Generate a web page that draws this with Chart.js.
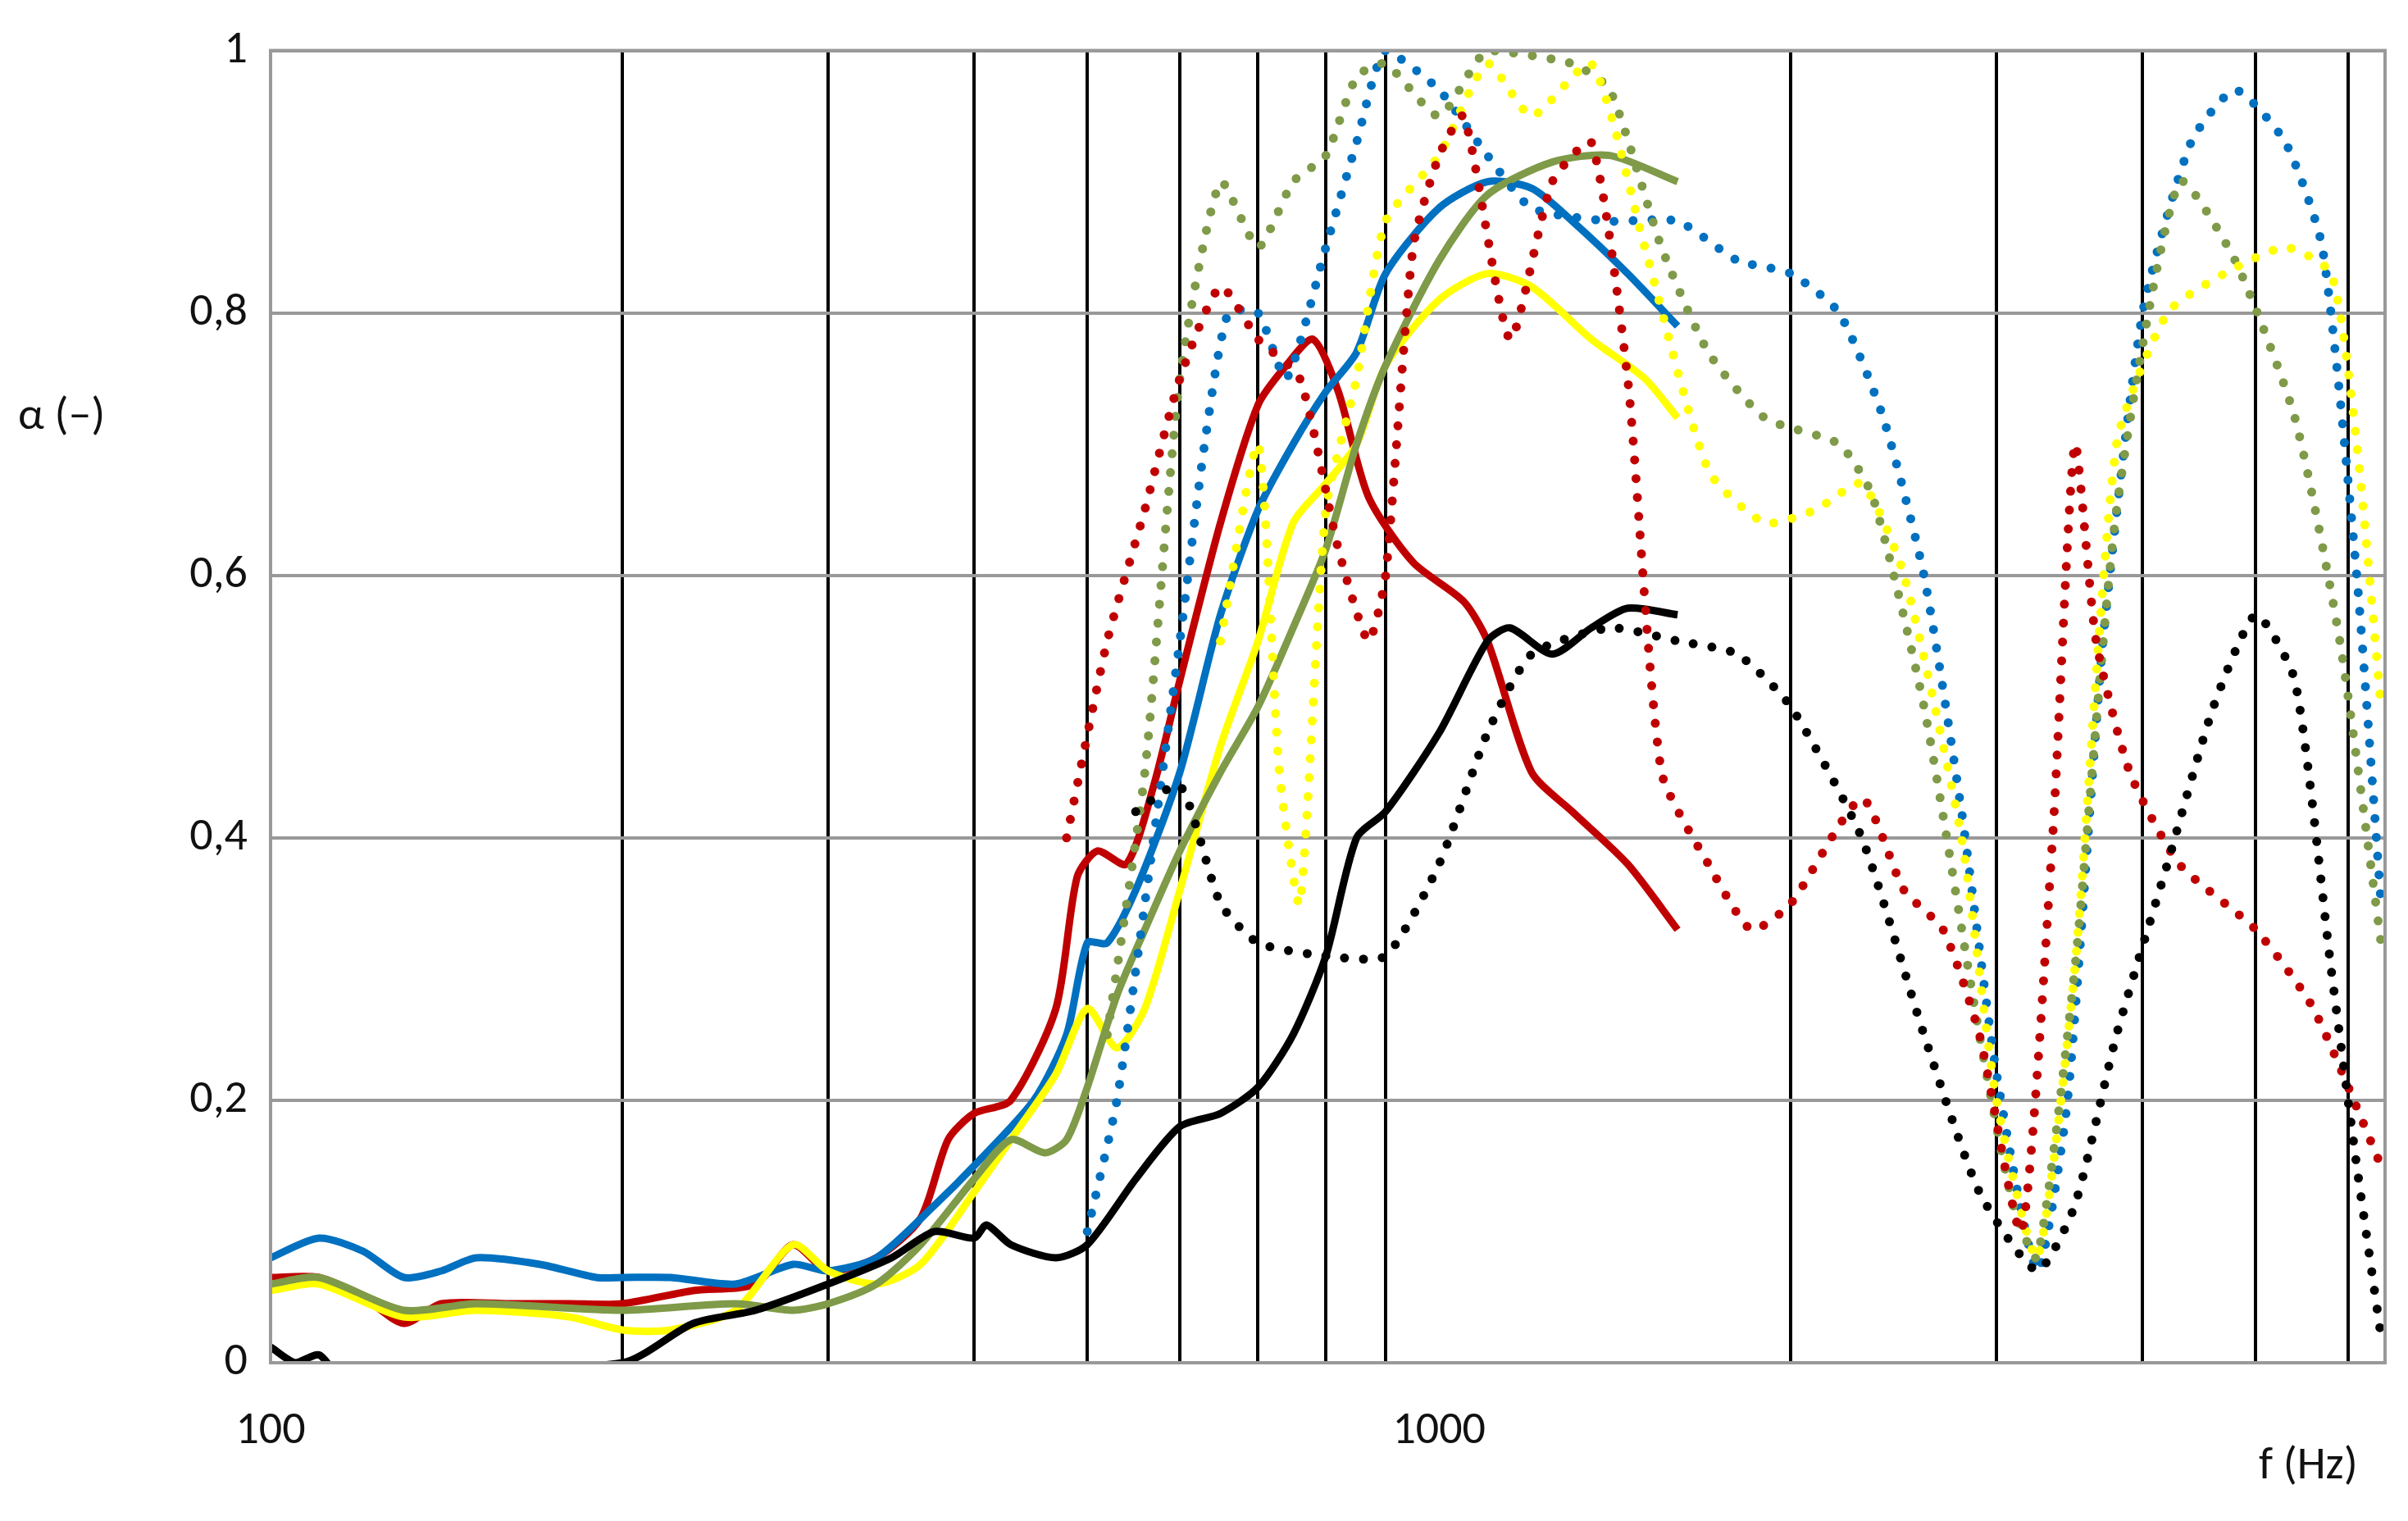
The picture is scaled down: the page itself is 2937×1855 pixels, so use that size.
<!DOCTYPE html>
<html><head><meta charset="utf-8">
<script src="https://cdn.jsdelivr.net/npm/chart.js@4.4.0/dist/chart.umd.min.js"></script>
<style>
html,body{margin:0;padding:0;background:#fff;}
#wrap{position:relative;width:2937px;height:1855px;}
.lbl{position:absolute;font-family:Calibri,Carlito,"Liberation Sans",sans-serif;font-size:56px;color:#111;}
</style></head><body>
<div id="wrap"><canvas id="c" width="2937" height="1855"></canvas>
<div class="lbl" style="left:22px;top:470px;">α (–)</div>
<div class="lbl" style="left:2755px;top:1750px;">f (Hz)</div>
</div>
<script>
// solid curves (100–1600 Hz)
const fSolidBlue = [100,110,120,130,140,150,170,190,200,220,250,280,300,330,370,400,450,480,500,520,550,600,650,700,750,800,850,900,1000,1100,1200,1300,1450,1600];
const aSolidBlue = [0.08,0.095,0.085,0.065,0.07,0.08,0.075,0.065,0.065,0.065,0.06,0.075,0.07,0.08,0.12,0.15,0.2,0.25,0.32,0.32,0.36,0.45,0.57,0.65,0.7,0.74,0.77,0.83,0.88,0.9,0.895,0.87,0.83,0.79];
const fSolidGreen = [100,110,130,150,200,250,280,300,330,360,400,430,460,480,500,530,560,600,650,700,750,800,850,900,1000,1100,1250,1400,1600];
const aSolidGreen = [0.06,0.065,0.04,0.045,0.04,0.045,0.04,0.045,0.06,0.09,0.14,0.17,0.16,0.17,0.21,0.28,0.33,0.39,0.45,0.5,0.56,0.62,0.7,0.76,0.84,0.89,0.915,0.92,0.9];
const fSolidYellow = [100,110,130,150,180,200,220,250,280,300,330,360,400,430,470,500,530,560,600,650,700,750,800,850,900,1000,1100,1200,1350,1500,1600];
const aSolidYellow = [0.055,0.06,0.035,0.04,0.035,0.025,0.025,0.04,0.09,0.07,0.06,0.075,0.13,0.17,0.22,0.27,0.24,0.27,0.36,0.47,0.55,0.64,0.67,0.7,0.76,0.81,0.83,0.82,0.78,0.75,0.72];
const fSolidRed = [100,110,120,130,140,160,180,200,230,260,280,300,330,360,380,400,430,470,490,510,540,570,600,650,700,740,780,820,870,950,1050,1100,1200,1300,1450,1600];
const aSolidRed = [0.065,0.065,0.05,0.03,0.045,0.045,0.045,0.045,0.055,0.06,0.09,0.07,0.08,0.11,0.17,0.19,0.2,0.27,0.37,0.39,0.38,0.44,0.52,0.64,0.73,0.76,0.78,0.74,0.66,0.61,0.58,0.55,0.45,0.42,0.38,0.33];
const fSolidBlack = [100,105,110,115,200,230,260,300,340,370,400,410,430,470,500,550,600,650,700,750,800,850,900,1000,1100,1150,1250,1350,1450,1600];
const aSolidBlack = [0.012,0.0,0.006,-0.01,0.0,0.03,0.04,0.06,0.08,0.1,0.095,0.105,0.09,0.08,0.09,0.14,0.18,0.19,0.21,0.25,0.31,0.4,0.42,0.48,0.55,0.56,0.54,0.56,0.575,0.57];

// dotted curves (~500–6400 Hz)
const fDotBlue = [500,530,560,600,630,660,700,740,800,850,900,1000,1100,1200,1400,1600,1800,2000,2200,2400,2600,2800,3000,3250,3450,3700,4000,4400,4800,5300,5700,6100,6400];
const aDotBlue = [0.1,0.2,0.35,0.55,0.7,0.8,0.8,0.75,0.85,0.93,1.0,0.97,0.92,0.88,0.87,0.87,0.84,0.83,0.8,0.72,0.6,0.42,0.22,0.07,0.2,0.55,0.8,0.93,0.97,0.93,0.85,0.6,0.35];
const fDotGreen = [520,560,600,650,700,750,800,850,900,1000,1100,1300,1400,1550,1700,1900,2200,2350,2600,2900,3100,3250,3500,3800,4300,4800,5400,5900,6400];
const aDotGreen = [0.25,0.45,0.75,0.9,0.85,0.9,0.92,0.98,0.99,0.95,1.0,0.99,0.97,0.85,0.77,0.72,0.7,0.66,0.5,0.25,0.12,0.08,0.3,0.65,0.9,0.84,0.72,0.55,0.32];
const fDotYellow = [650,700,730,760,800,850,900,1000,1100,1200,1350,1500,1700,1900,2100,2300,2500,2800,3000,3250,3500,3800,4200,4700,5300,5800,6100,6400];
const aDotYellow = [0.55,0.7,0.45,0.35,0.65,0.75,0.87,0.92,0.99,0.95,0.99,0.85,0.68,0.64,0.65,0.67,0.6,0.4,0.2,0.08,0.3,0.7,0.8,0.83,0.85,0.83,0.7,0.5];
const fDotRed = [480,520,560,600,650,700,760,820,870,900,950,1000,1050,1150,1250,1350,1450,1550,1700,1850,2000,2300,2500,2700,2900,3150,3350,3500,3650,3900,4300,5000,5600,6400];
const aDotRed = [0.4,0.55,0.65,0.75,0.82,0.78,0.75,0.62,0.55,0.6,0.85,0.92,0.95,0.78,0.9,0.93,0.75,0.45,0.38,0.33,0.35,0.43,0.36,0.33,0.25,0.1,0.4,0.7,0.55,0.45,0.38,0.33,0.27,0.15];
const fDotBlack = [550,600,650,700,800,900,1000,1100,1200,1400,1600,1800,2000,2300,2600,2900,3250,3500,3800,4200,4600,5000,5400,5800,6100,6400];
const aDotBlack = [0.42,0.44,0.35,0.32,0.31,0.31,0.38,0.48,0.54,0.56,0.55,0.54,0.5,0.4,0.25,0.13,0.07,0.12,0.25,0.38,0.5,0.57,0.52,0.3,0.15,0.02];

const xGridTicks = [100,200,300,400,500,600,700,800,900,1000,2000,3000,4000,5000,6000];
const yTicks = [0,0.2,0.4,0.6,0.8,1];

const pts = (f, a) => f.map((x, i) => ({ x, y: a[i] }));
const solid = (f, a, color) => ({ data: pts(f, a), borderColor: color, borderWidth: 9, pointRadius: 0, tension: 0.25, fill: false });
const dotted = (f, a, color) => ({ data: pts(f, a), borderColor: color, borderWidth: 11, borderDash: [0, 23], borderCapStyle: 'round', pointRadius: 0, tension: 0.2, fill: false });

const BLUE = '#0070C0', GREEN = '#7F9A48', YELLOW = '#FFFF00', RED = '#C00000', BLACK = '#000000';

new Chart(document.getElementById('c').getContext('2d'), {
  type: 'line',
  data: { datasets: [
    dotted(fDotBlack, aDotBlack, BLACK),
    dotted(fDotRed, aDotRed, RED),
    dotted(fDotYellow, aDotYellow, YELLOW),
    dotted(fDotGreen, aDotGreen, GREEN),
    dotted(fDotBlue, aDotBlue, BLUE),
    solid(fSolidBlack, aSolidBlack, BLACK),
    solid(fSolidGreen, aSolidGreen, GREEN),
    solid(fSolidYellow, aSolidYellow, YELLOW),
    solid(fSolidBlue, aSolidBlue, BLUE),
    solid(fSolidRed, aSolidRed, RED),
  ] },
  options: {
    responsive: false,
    animation: false,
    layout: { padding: { top: 56, right: 28, bottom: 0, left: 0 } },
    plugins: { legend: { display: false }, tooltip: { enabled: false } },
    scales: {
      x: {
        type: 'logarithmic', min: 100, max: 6450,
        afterBuildTicks: s => { s.ticks = xGridTicks.map(v => ({ value: v })); },
        afterFit: s => { s.height = 193; },
        ticks: { autoSkip: false, maxRotation: 0, color: '#111', padding: 50,
          font: { family: 'Calibri, Carlito, "Liberation Sans", sans-serif', size: 56 },
          callback: v => (v === 100 || v === 1000) ? String(v) : '' },
        grid: { color: c => (c.tick && (c.tick.value === 100 || c.tick.value === 1000)) ? 'rgba(0,0,0,0)' : '#000', lineWidth: 4, drawTicks: false },
        border: { color: '#999', width: 4 }
      },
      y: {
        min: 0, max: 1,
        afterBuildTicks: s => { s.ticks = yTicks.map(v => ({ value: v })); },
        afterFit: s => { s.width = 330; },
        ticks: { color: '#111', padding: 28,
          font: { family: 'Calibri, Carlito, "Liberation Sans", sans-serif', size: 56 },
          callback: v => String(v).replace('.', ',') },
        grid: { color: '#999', lineWidth: 4, drawTicks: false },
        border: { color: '#999', width: 4 }
      }
    }
  },
  plugins: [{
    id: 'frame',
    afterDraw(chart) {
      const { ctx, chartArea: a } = chart;
      ctx.save();
      ctx.strokeStyle = '#999'; ctx.lineWidth = 4;
      ctx.strokeRect(a.left, a.top, a.right - a.left, a.bottom - a.top);
      ctx.restore();
    }
  }]
});
</script>
</body></html>
